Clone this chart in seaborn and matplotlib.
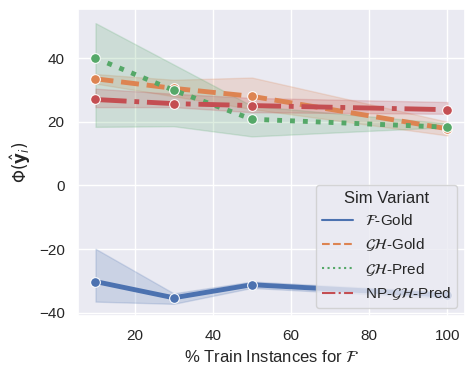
import matplotlib
matplotlib.use('Agg')
import matplotlib.pyplot as plt
from matplotlib.lines import Line2D
import pandas as pd
import seaborn as sns

pct = [10, 30, 50, 100]
variants = [r'$\mathcal{F}$-Gold', r'$\mathcal{GH}$-Gold',
            r'$\mathcal{GH}$-Pred', r'NP-$\mathcal{GH}$-Pred']

# mean values
f_gold = [-30.2, -35.3, -31.2, -34.5]
gh_gold = [33.5, 30.5, 28.0, 17.8]
gh_pred = [40.0, 29.9, 20.8, 18.3]
np_gh_pred = [27.0, 25.7, 25.1, 23.8]

# band limits (lower / upper)
f_gold_lo = [-36.5, -37.2, -32.2, -35.5]
f_gold_hi = [-19.9, -33.9, -30.2, -33.5]
gh_gold_lo = [32.0, 28.0, 24.0, 15.7]
gh_gold_hi = [35.0, 33.2, 33.9, 20.0]
gh_pred_lo = [18.4, 18.6, 15.4, 18.3]
gh_pred_hi = [51.0, 38.0, 25.0, 19.5]
np_gh_pred_lo = [24.6, 24.6, 23.0, 22.5]
np_gh_pred_hi = [30.4, 28.8, 27.5, 26.2]

means = [f_gold, gh_gold, gh_pred, np_gh_pred]
lows = [f_gold_lo, gh_gold_lo, gh_pred_lo, np_gh_pred_lo]
highs = [f_gold_hi, gh_gold_hi, gh_pred_hi, np_gh_pred_hi]

sns.set_theme(style='darkgrid')
plt.rcParams['font.family'] = ['Liberation Sans', 'DejaVu Sans']
colors = sns.color_palette('deep', 4)
dash_styles = ['', (3.7, 1.6), (1, 1.65), (6.4, 1.6, 1, 1.6)]
legend_styles = ['-', '--', ':', '-.']

rows = []
for v, m in zip(variants, means):
    for x, y in zip(pct, m):
        rows.append({'pct': x, 'phi': y, 'variant': v})
df = pd.DataFrame(rows)

fig, ax = plt.subplots(figsize=(4.75, 3.77), dpi=100)

# confidence bands
for c, lo, hi in zip(colors, lows, highs):
    ax.fill_between(pct, lo, hi, color=c, alpha=0.2, linewidth=1)

sns.lineplot(data=df, x='pct', y='phi', hue='variant', style='variant',
             hue_order=variants, style_order=variants, palette=colors,
             dashes=dict(zip(variants, dash_styles)),
             markers=dict(zip(variants, ['o'] * 4)),
             linewidth=3.5, markersize=7, legend=False, ax=ax)

handles = [Line2D([], [], color=c, ls=s, lw=1.5)
           for c, s in zip(colors, legend_styles)]
ax.legend(handles, variants, title='Sim Variant', loc='lower right')

ax.set_ylim(-41, 55.3)
ax.set_xlabel(r'% Train Instances for $\mathcal{F}$')
ax.set_ylabel(r'$\Phi(\hat{\mathbf{y}}_i)$')

plt.subplots_adjust(left=0.164, right=0.979, bottom=0.162, top=0.975)
plt.savefig('out.png')
